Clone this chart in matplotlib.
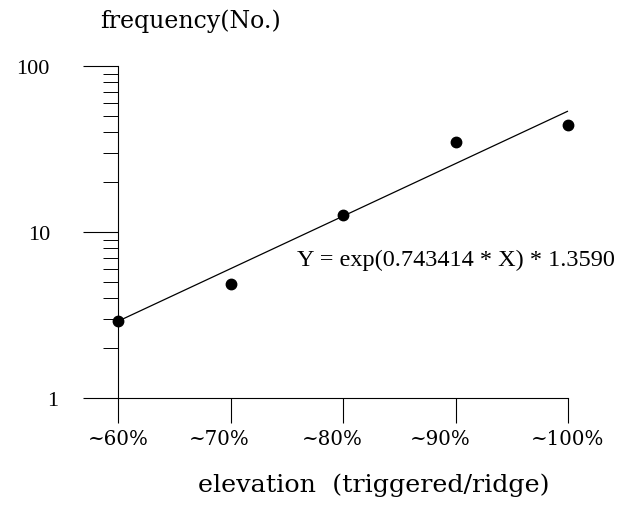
import matplotlib
matplotlib.use("Agg")
import matplotlib.pyplot as plt
from matplotlib.ticker import FixedLocator, NullFormatter
from matplotlib.transforms import ScaledTranslation

categories = ["~60%", "~70%", "~80%", "~90%", "~100%"]
frequency = [2.9, 4.85, 12.7, 35.0, 44.0]
fit_categories = ["~60%", "~100%"]
fit_values = [2.9, 53.5]
y_major = [1, 10, 100]
y_major_labels = ["1", "10", "100"]
y_minor = [2, 3, 4, 5, 6, 7, 8, 9, 20, 30, 40, 50, 60, 70, 80, 90]
equation = "Y = exp(0.743414 * X) * 1.3590"

W, H = 620, 506
fig = plt.figure(figsize=(W / 100, H / 100), dpi=100)
ax = fig.add_axes([118 / W, (H - 399) / H, 450 / W, 332 / H])

xpos = list(range(len(categories)))
fit_x = [categories.index(c) for c in fit_categories]
ax.plot(fit_x, fit_values, color="black", lw=0.9, solid_capstyle="butt", clip_on=False)
ax.plot(xpos, frequency, "o", color="black", ms=7.5, clip_on=False)

ax.set_yscale("log")
ax.set_ylim(1, 100)
ax.set_xlim(0, len(categories) - 1)

ax.yaxis.set_major_locator(FixedLocator(y_major))
ax.set_yticklabels(y_major_labels, fontfamily="Liberation Serif", fontsize=16)
ax.yaxis.set_minor_locator(FixedLocator(y_minor))
ax.yaxis.set_minor_formatter(NullFormatter())
ax.tick_params(axis="y", which="major", direction="out", length=25, width=0.8, pad=24)
ax.tick_params(axis="y", which="minor", direction="out", length=10.5, width=0.7)

ax.set_xticks(xpos)
ax.set_xticklabels(categories, fontfamily="DejaVu Serif", fontsize=14.3)
ax.tick_params(axis="x", which="major", direction="out", length=18, width=0.8, pad=4)
ax.xaxis.set_minor_locator(FixedLocator([]))

# hand-placed label offsets seen in the reference (pixels)
x_label_shift = [0, -11, -11, -15, 0]
for lab, dx in zip(ax.get_xticklabels(), x_label_shift):
    lab.set_transform(lab.get_transform() + ScaledTranslation(dx / 100, 0, fig.dpi_scale_trans))
ylabs = ax.get_yticklabels()
ylabs[0].set_transform(ylabs[0].get_transform() + ScaledTranslation(8 / 100, 0, fig.dpi_scale_trans))

for s in ["top", "right"]:
    ax.spines[s].set_visible(False)
for s in ["left", "bottom"]:
    ax.spines[s].set_linewidth(0.8)

fig.text(297 / W, (H - 260) / H, equation, fontfamily="Liberation Serif",
         fontsize=17.5, ha="left", va="center")
fig.text(100 / W, (H - 21) / H, "frequency(No.)", fontfamily="DejaVu Serif",
         fontsize=17, ha="left", va="center")
fig.text(374 / W, (H - 485) / H, "elevation  (triggered/ridge)", fontfamily="DejaVu Serif",
         fontsize=18.3, ha="center", va="center")

fig.savefig("out.png", dpi=100)
